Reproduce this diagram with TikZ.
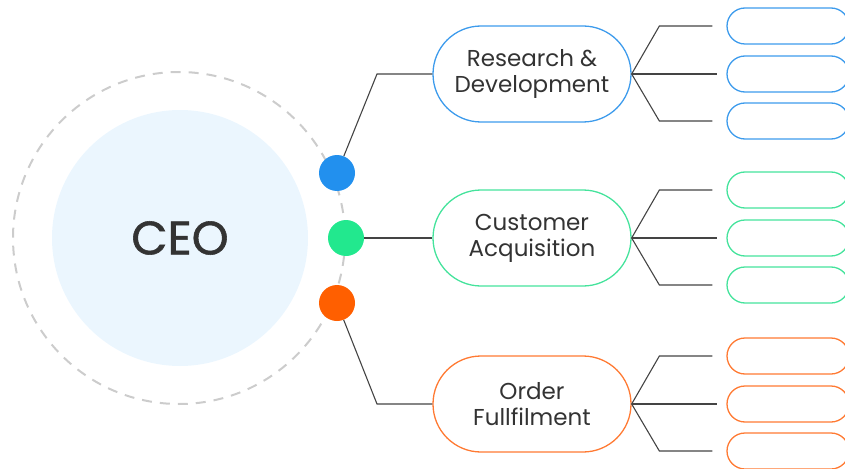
\documentclass[tikz,border=0pt]{standalone}
\usepackage{fontspec}
\setmainfont{Poppins}
\newfontfamily\ceofont{Poppins}[FakeBold=1.2]
\usepackage{xcolor}
\usetikzlibrary{positioning}
\definecolor{rdblue}{HTML}{2290EE}
\definecolor{rdline}{HTML}{3D9BEC}
\definecolor{cagreen}{HTML}{22E88E}
\definecolor{caline}{HTML}{45E39C}
\definecolor{oforange}{HTML}{FF5F00}
\definecolor{ofline}{HTML}{FF7A33}
\definecolor{ceofill}{HTML}{EBF6FE}
\definecolor{ringgray}{HTML}{CCCCCC}
\definecolor{linkgray}{HTML}{444444}
\definecolor{textgray}{HTML}{333333}

\begin{document}
\begin{tikzpicture}[x=1pt,y=-1pt,
  dept/.style={draw=#1,line width=1.3pt,rounded corners=48pt,minimum width=198pt,
    minimum height=96pt,align=center,text=textgray,font=\fontsize{23}{26}\selectfont},
  leaf/.style={draw=#1,line width=1.3pt,rounded corners=18pt,minimum width=122pt,
    minimum height=36pt},
  dot/.style={circle,fill=#1,minimum size=36pt,inner sep=0pt},
  link/.style={draw=linkgray,line width=1.1pt}]
\useasboundingbox (0,0) rectangle (845,468);
% ceo and its ring
\draw[ringgray,line width=2pt,dash pattern=on 10pt off 8pt] (179,238) circle (166);
\node[circle,fill=ceofill,minimum size=256pt,text=textgray,
  font=\ceofont\fontsize{47}{47}\selectfont] (ceo) at (180,238) {CEO};

% departments
\node[dept=rdline] (rd) at (532,74) {Research \&\\Development};
\node[dept=caline] (ca) at (532,238) {Customer\\Acquisition};
\node[dept=ofline] (of) at (532,404) {Order\\Fullfilment};

\node[dot=rdblue] (rddot) at (337,173) {};
\node[dot=cagreen] (cadot) at (346,238) {};
\node[dot=oforange] (ofdot) at (337,303) {};

\coordinate (rdkink) at (377,74);
\coordinate (ofkink) at (377,404);
\draw[link] (rddot) -- (rdkink) -- (rd.west);
\draw[link] (cadot) -- (ca.west);
\draw[link] (ofdot) -- (ofkink) -- (of.west);

% sub units
\foreach \d/\c/\y in {rd/rdline/74, ca/caline/238, of/ofline/404}{
  \node[leaf=\c] (\d1) at (788,\y-48) {};
  \node[leaf=\c] (\d2) at (788,\y) {};
  \node[leaf=\c] (\d3) at (788,\y+47) {};
  \draw[link] (\d.east) -- ([xshift=-67pt]\d1.west) -- ([xshift=-14pt]\d1.west);
  \draw[link] (\d.east) -- ([xshift=-9pt]\d2.west);
  \draw[link] (\d.east) -- ([xshift=-67pt]\d3.west) -- ([xshift=-14pt]\d3.west);
}
\end{tikzpicture}
\end{document}
